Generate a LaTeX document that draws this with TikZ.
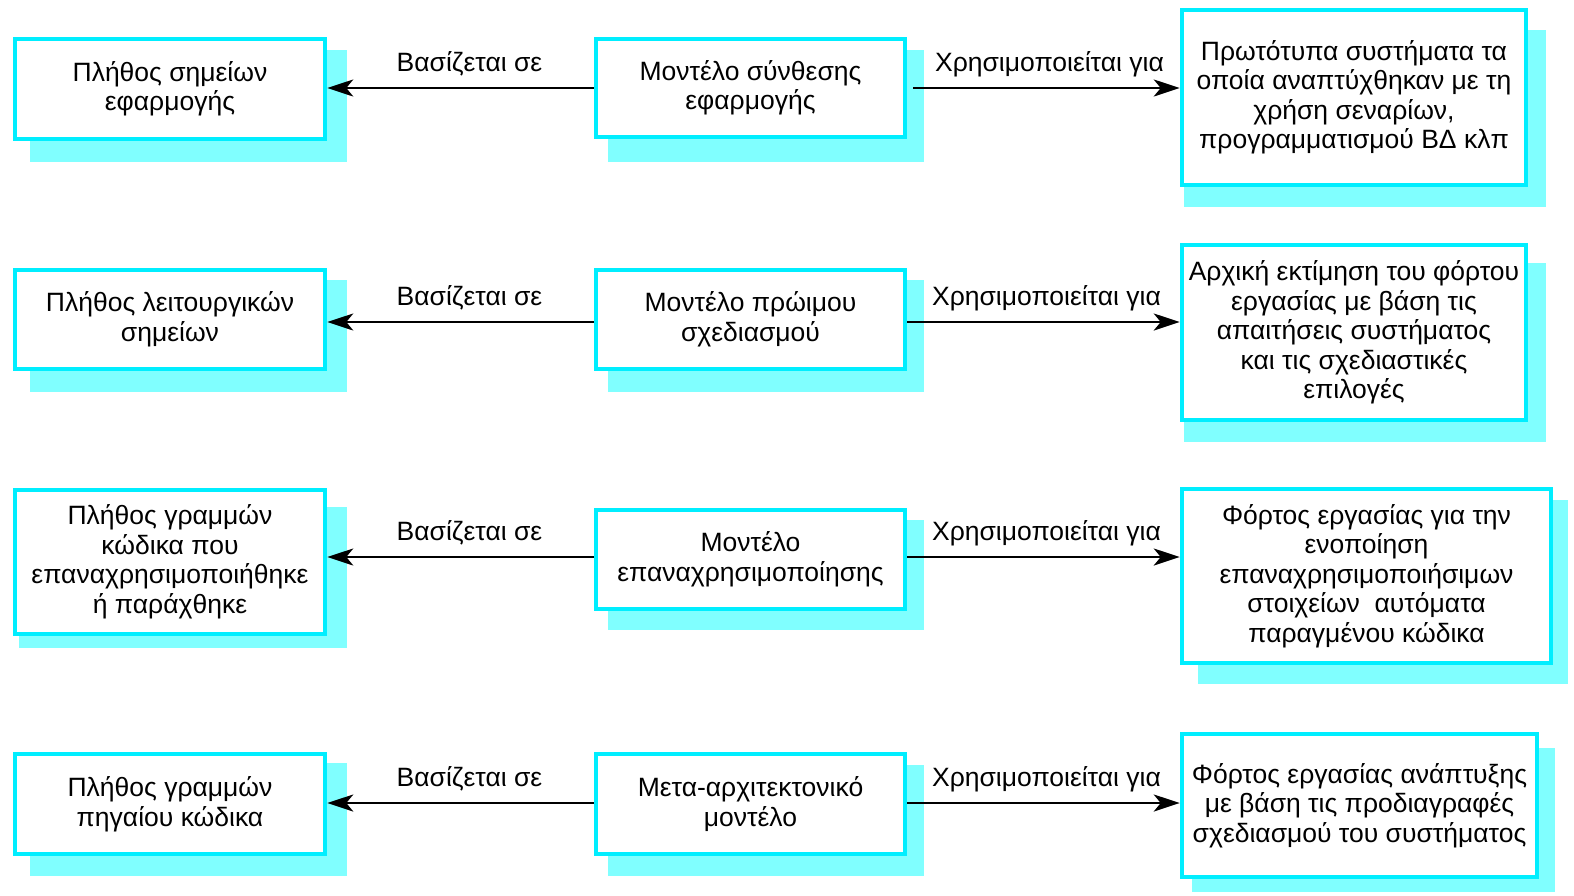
\documentclass[tikz,border=0pt]{standalone}
\usepackage{fontspec}
\setmainfont{Liberation Sans}
\usetikzlibrary{calc,backgrounds,arrows.meta}
\definecolor{boxline}{RGB}{0,238,255}
\definecolor{shadowc}{RGB}{128,255,255}
\newcommand{\boxshadow}[5]{\fill[shadowc] ($(#1.north west)+(#2,#3)$) rectangle ($(#1.south east)+(#4,#5)$);}
\begin{document}
\begin{tikzpicture}[x={(1pt,0)},y={(0,-1pt)},
  txt/.style={font=\fontsize{26.5}{29.5}\selectfont},
  mbox/.style={txt,draw=boxline,line width=4.5pt,fill=white,rectangle,align=center,inner sep=0pt},
  conn/.style={line width=2.7pt,-{Stealth[length=26pt,width=17pt,inset=7pt]}},
  lbl/.style={txt,anchor=base,inner sep=0pt,yshift=17pt}]
\useasboundingbox (0,0) rectangle (1574,895);
% Row 1
\node[mbox,minimum width=310pt,minimum height=100pt] (l1) at (170,89) {Πλήθος σημείων\\εφαρμογής};
\node[mbox,minimum width=309pt,minimum height=98pt] (m1) at (750.5,88) {Μοντέλο σύνθεσης\\εφαρμογής};
\node[mbox,minimum width=344pt,minimum height=175pt] (r1) at (1354,97.5) {Πρωτότυπα συστήματα τα\\οποία αναπτύχθηκαν με τη\\χρήση σεναρίων,\\προγραμματισμού ΒΔ κλπ};
% Row 2
\node[mbox,minimum width=310pt,minimum height=99pt] (l2) at (170,319.5) {Πλήθος λειτουργικών\\σημείων};
\node[mbox,minimum width=309pt,minimum height=99pt] (m2) at (750.5,319.5) {Μοντέλο πρώιμου\\σχεδιασμού};
\node[mbox,minimum width=344pt,minimum height=175pt] (r2) at (1354,332.5) {Αρχική εκτίμηση του φόρτου\\εργασίας με βάση τις\\απαιτήσεις συστήματος\\και τις σχεδιαστικές\\επιλογές};
% Row 3
\node[mbox,minimum width=310pt,minimum height=144pt] (l3) at (170,562) {Πλήθος γραμμών\\κώδικα που\\επαναχρησιμοποιήθηκε\\ή παράχθηκε};
\node[mbox,minimum width=309pt,minimum height=99pt] (m3) at (750.5,559.5) {Μοντέλο\\επαναχρησιμοποίησης};
\node[mbox,minimum width=369pt,minimum height=174pt] (r3) at (1366.5,576) {Φόρτος εργασίας για την\\ενοποίηση\\επαναχρησιμοποιήσιμων\\στοιχείων\ \ αυτόματα\\παραγμένου κώδικα};
% Row 4
\node[mbox,minimum width=310pt,minimum height=100pt] (l4) at (170,804) {Πλήθος γραμμών\\πηγαίου κώδικα};
\node[mbox,minimum width=309pt,minimum height=100pt] (m4) at (750.5,804) {Μετα-αρχιτεκτονικό\\μοντέλο};
\node[mbox,minimum width=355pt,minimum height=143pt] (r4) at (1359.5,805.5) {Φόρτος εργασίας ανάπτυξης\\με βάση τις προδιαγραφές\\σχεδιασμού του συστήματος};
% shadows
\begin{scope}[on background layer]
\boxshadow{l1}{17}{13}{20}{21}
\boxshadow{m1}{14}{13}{17}{23}
\boxshadow{r1}{4}{22}{18}{20}
\boxshadow{l2}{17}{12}{20}{21}
\boxshadow{m2}{14}{12}{17}{21}
\boxshadow{r2}{4}{20}{18}{20}
\boxshadow{l3}{6}{19}{20}{12}
\boxshadow{m3}{14}{12}{17}{19}
\boxshadow{r3}{18}{13}{15}{19}
\boxshadow{l4}{17}{11}{20}{20}
\boxshadow{m4}{14}{13}{17}{20}
\boxshadow{r4}{12}{16}{16}{13}
\end{scope}
% connectors
\draw[conn] (m1.west |- 0,88) -- node[lbl,xshift=9pt]{Βασίζεται σε} (l1.east |- 0,88);
\draw[conn] ($(m1.east |- 0,88)+(6,0)$) -- node[lbl,xshift=3pt]{Χρησιμοποιείται για} (r1.west |- 0,88);
\draw[conn] (m2.west |- 0,322) -- node[lbl,xshift=9pt]{Βασίζεται σε} (l2.east |- 0,322);
\draw[conn] (m2.east |- 0,322) -- node[lbl,xshift=3pt]{Χρησιμοποιείται για} (r2.west |- 0,322);
\draw[conn] (m3.west |- 0,557) -- node[lbl,xshift=9pt]{Βασίζεται σε} (l3.east |- 0,557);
\draw[conn] (m3.east |- 0,557) -- node[lbl,xshift=3pt]{Χρησιμοποιείται για} (r3.west |- 0,557);
\draw[conn] (m4.west |- 0,803) -- node[lbl,xshift=9pt]{Βασίζεται σε} (l4.east |- 0,803);
\draw[conn] (m4.east |- 0,803) -- node[lbl,xshift=3pt]{Χρησιμοποιείται για} (r4.west |- 0,803);
\end{tikzpicture}
\end{document}
